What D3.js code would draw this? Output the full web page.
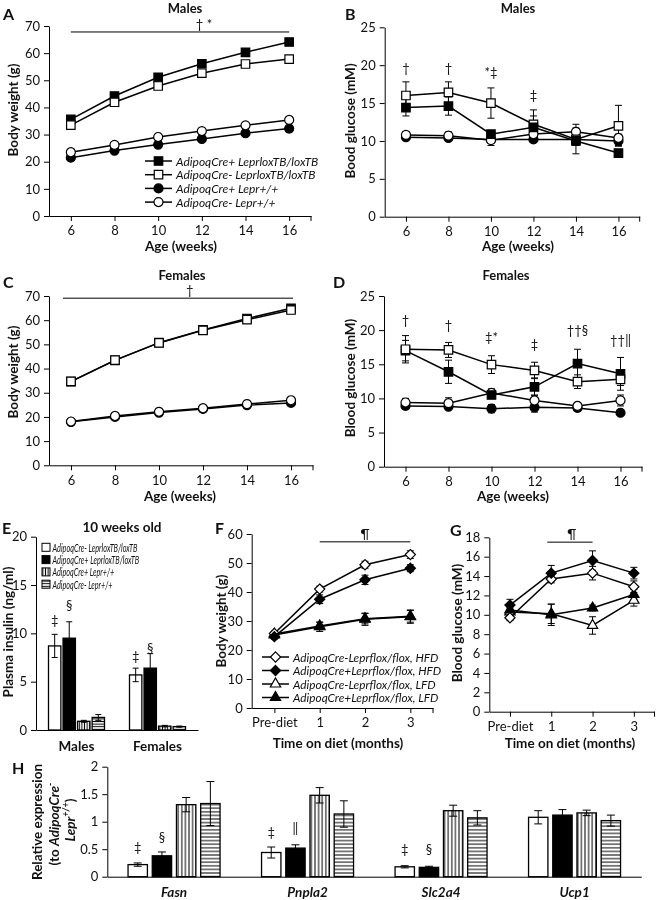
<!DOCTYPE html>
<html><head><meta charset="utf-8">
<script src="https://cdn.jsdelivr.net/npm/d3@7"></script>
<style>
body{margin:0;background:#fff;}
svg{display:block;will-change:transform;}
</style></head><body>
<svg id="fig" width="656" height="900"></svg>
<script>
// ================= DATA =================
const ages = [6, 8, 10, 12, 14, 16];
const ageLabels = ["6", "8", "10", "12", "14", "16"];
const lineSeriesNames = ["AdipoqCre+ LeprloxTB/loxTB", "AdipoqCre- LeprloxTB/loxTB", "AdipoqCre+ Lepr+/+", "AdipoqCre- Lepr+/+"];

// Panel A - males body weight (g)
const aCrePlusLox = [35.6, 44.2, 51.1, 56.1, 60.3, 64.1];
const aCrePlusLoxErr = [0.8, 0.8, 0.9, 0.9, 0.9, 1.0];
const aCreMinusLox = [33.5, 41.9, 47.9, 52.6, 56.0, 57.8];
const aCreMinusLoxErr = [0.7, 0.8, 0.9, 1.0, 1.0, 1.2];
const aCrePlusWt = [21.5, 24.1, 26.3, 28.4, 30.5, 32.2];
const aCrePlusWtErr = [0.4, 0.4, 0.5, 0.5, 0.5, 0.6];
const aCreMinusWt = [23.5, 26.2, 29.1, 31.3, 33.4, 35.4];
const aCreMinusWtErr = [0.5, 0.5, 0.6, 0.6, 0.7, 0.8];

// Panel B - males blood glucose (mM)
const bCrePlusLox = [14.4, 14.6, 10.9, 11.8, 10.0, 8.4];
const bCrePlusLoxErr = [1.1, 1.2, 0.3, 1.5, 1.7, 0.3];
const bCreMinusLox = [16.0, 16.4, 15.0, 12.2, 10.2, 12.0];
const bCreMinusLoxErr = [1.8, 1.4, 2.0, 1.9, 0.8, 2.7];
const bCrePlusWt = [10.5, 10.4, 10.2, 10.2, 10.2, 10.0];
const bCrePlusWtErr = [0.3, 0.2, 0.2, 0.3, 0.3, 0.6];
const bCreMinusWt = [10.8, 10.7, 10.1, 10.9, 11.2, 10.4];
const bCreMinusWtErr = [0.4, 0.5, 0.7, 0.5, 1.0, 0.5];

// Panel C - females body weight (g)
const cCrePlusLox = [34.6, 43.4, 50.7, 56.0, 60.7, 64.9];
const cCrePlusLoxErr = [0.8, 0.6, 0.9, 0.8, 1.0, 1.2];
const cCreMinusLox = [34.7, 43.5, 50.6, 55.8, 60.2, 64.2];
const cCreMinusLoxErr = [0.8, 0.8, 1.0, 0.9, 1.2, 1.5];
const cCrePlusWt = [18.0, 20.0, 21.8, 23.3, 24.9, 25.8];
const cCrePlusWtErr = [0.4, 0.4, 0.4, 0.5, 0.5, 0.5];
const cCreMinusWt = [18.1, 20.4, 22.1, 23.6, 25.3, 26.9];
const cCreMinusWtErr = [0.4, 0.5, 0.5, 0.5, 0.6, 0.6];

// Panel D - females blood glucose (mM)
const dCrePlusLox = [17.0, 13.9, 10.5, 11.7, 15.1, 13.6];
const dCrePlusLoxErr = [1.5, 1.7, 0.5, 1.3, 2.1, 2.4];
const dCreMinusLox = [17.2, 17.1, 14.95, 14.1, 12.45, 12.8];
const dCreMinusLoxErr = [2.0, 1.1, 1.3, 1.2, 1.0, 0.9];
const dCrePlusWt = [8.9, 8.8, 8.5, 8.7, 8.6, 7.9];
const dCrePlusWtErr = [0.3, 0.3, 0.6, 0.7, 0.3, 0.2];
const dCreMinusWt = [9.4, 9.3, 10.8, 9.7, 8.9, 9.7];
const dCreMinusWtErr = [0.6, 0.8, 0.6, 0.8, 0.3, 0.8];

// Panel E - plasma insulin (ng/ml), 10 weeks old
const eGroups = ["Males", "Females"];
const eSeriesNames = ["AdipoqCre- LeprloxTB/loxTB", "AdipoqCre+ LeprloxTB/loxTB", "AdipoqCre+ Lepr+/+", "AdipoqCre- Lepr+/+"];
const eCreMinusLox = [8.7, 5.7];
const eCreMinusLoxErr = [1.2, 0.7];
const eCrePlusLox = [9.5, 6.4];
const eCrePlusLoxErr = [1.7, 1.5];
const eCrePlusWt = [0.9, 0.4];
const eCrePlusWtErr = [0.1, 0.08];
const eCreMinusWt = [1.3, 0.35];
const eCreMinusWtErr = [0.3, 0.06];

// Panels F, G - diet study
const months = ["Pre-diet", "1", "2", "3"];
const dietSeriesNames = ["AdipoqCre-Leprflox/flox, HFD", "AdipoqCre+Leprflox/flox, HFD", "AdipoqCre-Leprflox/flox, LFD", "AdipoqCre+Leprflox/flox, LFD"];
const fCreMinusHFD = [25.7, 41.0, 49.4, 52.9];
const fCreMinusHFDErr = [0.8, 1.0, 1.2, 1.3];
const fCrePlusHFD = [24.6, 37.5, 44.2, 48.2];
const fCrePlusHFDErr = [0.8, 1.5, 1.6, 1.2];
const fCreMinusLFD = [25.5, 28.3, 30.8, 31.6];
const fCreMinusLFDErr = [0.8, 1.3, 1.8, 2.0];
const fCrePlusLFD = [25.2, 28.0, 30.6, 31.5];
const fCrePlusLFDErr = [0.8, 1.6, 2.1, 2.3];
const gCreMinusHFD = [9.7, 13.7, 14.3, 12.9];
const gCreMinusHFDErr = [0.3, 0.4, 0.7, 0.6];
const gCrePlusHFD = [11.0, 14.3, 15.6, 14.3];
const gCrePlusHFDErr = [0.6, 0.8, 1.0, 0.6];
const gCreMinusLFD = [10.3, 10.1, 8.9, 11.5];
const gCreMinusLFDErr = [0.4, 1.0, 0.9, 0.6];
const gCrePlusLFD = [10.5, 10.0, 10.7, 12.1];
const gCrePlusLFDErr = [0.4, 1.1, 0.3, 0.5];

// Panel H - relative expression
const hGenes = ["Fasn", "Pnpla2", "Slc2a4", "Ucp1"];
const hCreMinusLox = [0.22, 0.44, 0.18, 1.08];
const hCreMinusLoxErr = [0.03, 0.10, 0.02, 0.12];
const hCrePlusLox = [0.38, 0.52, 0.17, 1.12];
const hCrePlusLoxErr = [0.07, 0.06, 0.02, 0.10];
const hCrePlusWt = [1.31, 1.48, 1.20, 1.16];
const hCrePlusWtErr = [0.13, 0.14, 0.10, 0.05];
const hCreMinusWt = [1.33, 1.14, 1.07, 1.02];
const hCreMinusWtErr = [0.40, 0.24, 0.13, 0.10];

// Significance marks: [x category index, label, y in data units]
const sigB = [[0, "†", 19.6], [1, "†", 19.6], [2, "*‡", 19.1], [3, "‡", 16.1]];
const sigD = [[0, "†", 21.5], [1, "†", 20.7], [2, "‡*", 19.0], [3, "‡", 18.0], [4, "††§", 20.0], [5, "††‖", 18.5]];
// [group, series, label, y]
const sigE = [[0, 0, "‡", 11.4], [0, 1, "§", 12.9], [1, 0, "‡", 7.7], [1, 1, "§", 8.5]];
const sigH = [[0, 0, "‡", 0.54], [0, 1, "§", 0.72], [1, 0, "‡", 0.82], [1, 1, "‖", 0.88], [2, 0, "‡", 0.50], [2, 1, "§", 0.50]];

// ================= DRAWING =================
const FONT = "Lato, 'Open Sans', 'DejaVu Sans', sans-serif";
const svg = d3.select("#fig").attr("font-family", FONT);
const defs = svg.append("defs");
function stripes(id, vertical, step) {
  const p = defs.append("pattern").attr("id", id).attr("patternUnits", "userSpaceOnUse")
    .attr("width", step).attr("height", step);
  p.append("rect").attr("width", step).attr("height", step).attr("fill", "#fff");
  p.append("line")
    .attr("x1", vertical ? step / 2 : 0).attr("x2", vertical ? step / 2 : step)
    .attr("y1", vertical ? 0 : step / 2).attr("y2", vertical ? step : step / 2)
    .attr("stroke", "#000").attr("stroke-width", 1);
}
stripes("vstripe", true, 3.6);
stripes("hstripe", false, 3.6);
stripes("vstripeS", true, 2.6);
stripes("hstripeS", false, 2.6);

const symDiamond = { draw(ctx, size) { const r = Math.sqrt(size / 2); ctx.moveTo(0, -r); ctx.lineTo(r, 0); ctx.lineTo(0, r); ctx.lineTo(-r, 0); ctx.closePath(); } };
const ST = {
  FS: { sym: d3.symbolSquare, size: 72, fill: "#000" },
  OS: { sym: d3.symbolSquare, size: 72, fill: "#fff" },
  FC: { sym: d3.symbolCircle, size: 64, fill: "#000" },
  OC: { sym: d3.symbolCircle, size: 64, fill: "#fff" },
  FD: { sym: symDiamond, size: 52, fill: "#000" },
  OD: { sym: symDiamond, size: 52, fill: "#fff" },
  FT: { sym: d3.symbolTriangle, size: 46, fill: "#000" },
  OT: { sym: d3.symbolTriangle, size: 46, fill: "#fff" }
};

function styleAxis(a, size) {
  a.selectAll("path,line").attr("stroke", "#000");
  a.selectAll("text").attr("font-size", size || 13).attr("fill", "#111").attr("font-family", FONT);
}
function txt(x, y, s, o = {}) {
  const t = svg.append("text").attr("x", x).attr("y", y).text(s)
    .attr("font-size", o.size || 13).attr("fill", "#111")
    .attr("text-anchor", o.anchor || "middle");
  if (o.bold) t.attr("font-weight", "bold");
  if (o.italic) t.attr("font-style", "italic");
  if (o.rot) t.attr("transform", `rotate(-90,${x},${y})`).attr("dominant-baseline", "central");
  if (o.central) t.attr("dominant-baseline", "central");
  return t;
}
function errBar(g, cx, y1, y2, hw) {
  g.append("line").attr("x1", cx).attr("x2", cx).attr("y1", y1).attr("y2", y2).attr("stroke", "#000").attr("stroke-width", 1);
  [y1, y2].forEach(yy => g.append("line").attr("x1", cx - hw).attr("x2", cx + hw).attr("y1", yy).attr("y2", yy).attr("stroke", "#000").attr("stroke-width", 1));
}

function drawLinePanel(p) {
  const base = p.y.range()[0];
  const [xa, xb] = p.x.range();
  const g = svg.append("g");
  const yAx = g.append("g").attr("transform", `translate(${xa},0)`)
    .call(d3.axisLeft(p.y).tickValues(p.yTicks).tickSize(5).tickSizeOuter(0).tickPadding(4).tickFormat(d3.format("d")));
  const xAx = g.append("g").attr("transform", `translate(0,${base})`)
    .call(d3.axisBottom(p.x).tickValues(p.xVals).tickSize(5).tickSizeOuter(0).tickPadding(5).tickFormat((d, i) => p.xLabels[i]));
  g.append("line").attr("x1", xb).attr("x2", xb).attr("y1", base).attr("y2", base + 5).attr("stroke", "#000");
  styleAxis(yAx); styleAxis(xAx);
  const X = i => p.x(p.xVals[i]);
  p.series.forEach(s => s.v.forEach((v, i) => { if (s.e[i]) errBar(g, X(i), p.y(v + s.e[i]), p.y(v - s.e[i]), 3.5); }));
  p.series.forEach(s => {
    g.append("path").attr("d", d3.line().x((d, i) => X(i)).y(d => p.y(d))(s.v))
      .attr("fill", "none").attr("stroke", "#000").attr("stroke-width", 1.5);
    g.selectAll(null).data(s.v).join("path")
      .attr("transform", (d, i) => `translate(${X(i)},${p.y(d)})`)
      .attr("d", d3.symbol(s.st.sym, s.st.size)).attr("fill", s.st.fill)
      .attr("stroke", "#000").attr("stroke-width", 1.2);
  });
  (p.sig || []).forEach(([i, t, yv]) => txt(X(i), p.y(yv), t, { central: true, size: 13 }));
  return { g, X };
}

function sigLine(x1, x2, y, label, lx) {
  svg.append("line").attr("x1", x1).attr("x2", x2).attr("y1", y).attr("y2", y).attr("stroke", "#000").attr("stroke-width", 1);
  txt(lx, y - 3, label, { size: 13 });
}

function legendLines(x0, y0, dy, names, styles, size) {
  names.forEach((n, i) => {
    const y = y0 + i * dy;
    svg.append("line").attr("x1", x0).attr("x2", x0 + 27).attr("y1", y).attr("y2", y).attr("stroke", "#000").attr("stroke-width", 1.5);
    svg.append("path").attr("transform", `translate(${x0 + 13.5},${y})`)
      .attr("d", d3.symbol(styles[i].sym, styles[i].size)).attr("fill", styles[i].fill).attr("stroke", "#000").attr("stroke-width", 1.2);
    txt(x0 + 31, y, n, { anchor: "start", italic: true, size: size, central: true });
  });
}

// ---------- Panel A ----------
const xA = d3.scaleLinear().domain([5, 17]).range([49, 311]);
const yA = d3.scaleLinear().domain([0, 70]).range([216, 26]);
drawLinePanel({ x: xA, y: yA, xVals: ages, xLabels: ageLabels, yTicks: d3.range(0, 71, 10),
  series: [
    { v: aCrePlusLox, e: aCrePlusLoxErr, st: ST.FS },
    { v: aCreMinusLox, e: aCreMinusLoxErr, st: ST.OS },
    { v: aCrePlusWt, e: aCrePlusWtErr, st: ST.FC },
    { v: aCreMinusWt, e: aCreMinusWtErr, st: ST.OC }
  ] });
sigLine(xA(6), xA(16), yA(67.8), "† *", xA(12.1));
legendLines(145, 161, 13.7, lineSeriesNames, [ST.FS, ST.OS, ST.FC, ST.OC], 12);
txt(3, 20, "A", { bold: true, size: 16, anchor: "start" });
txt(185, 13, "Males", { bold: true, size: 13 });
txt(12.5, 110, "Body weight (g)", { bold: true, size: 13.5, rot: true });
txt(181, 251, "Age (weeks)", { bold: true, size: 13.5 });

// ---------- Panel B ----------
const xB = d3.scaleLinear().domain([5, 17]).range([384.7, 639.7]);
const yB = d3.scaleLinear().domain([0, 25]).range([216.7, 27.3]);
drawLinePanel({ x: xB, y: yB, xVals: ages, xLabels: ageLabels, yTicks: d3.range(0, 26, 5), sig: sigB,
  series: [
    { v: bCrePlusWt, e: bCrePlusWtErr, st: ST.FC },
    { v: bCreMinusWt, e: bCreMinusWtErr, st: ST.OC },
    { v: bCreMinusLox, e: bCreMinusLoxErr, st: ST.OS },
    { v: bCrePlusLox, e: bCrePlusLoxErr, st: ST.FS }
  ] });
txt(345, 20, "B", { bold: true, size: 16, anchor: "start" });
txt(518, 13, "Males", { bold: true, size: 13 });
txt(350, 121, "Bood glucose (mM)", { bold: true, size: 13.5, rot: true });
txt(518, 251, "Age (weeks)", { bold: true, size: 13.5 });

// ---------- Panel C ----------
const xC = d3.scaleLinear().domain([5, 17]).range([49, 313]);
const yC = d3.scaleLinear().domain([0, 70]).range([465.3, 296]);
drawLinePanel({ x: xC, y: yC, xVals: ages, xLabels: ageLabels, yTicks: d3.range(0, 71, 10),
  series: [
    { v: cCrePlusLox, e: cCrePlusLoxErr, st: ST.FS },
    { v: cCreMinusLox, e: cCreMinusLoxErr, st: ST.OS },
    { v: cCrePlusWt, e: cCrePlusWtErr, st: ST.FC },
    { v: cCreMinusWt, e: cCreMinusWtErr, st: ST.OC }
  ] });
sigLine(63, 293, yC(69.1), "†", xC(11.4));
txt(3, 288, "C", { bold: true, size: 16, anchor: "start" });
txt(182, 280, "Females", { bold: true, size: 13 });
txt(12.5, 372, "Body weight (g)", { bold: true, size: 13.5, rot: true });
txt(180, 501, "Age (weeks)", { bold: true, size: 13.5 });

// ---------- Panel D ----------
const xD = d3.scaleLinear().domain([5, 17]).range([384, 642]);
const yD = d3.scaleLinear().domain([0, 25]).range([466.7, 296]);
drawLinePanel({ x: xD, y: yD, xVals: ages, xLabels: ageLabels, yTicks: d3.range(0, 26, 5), sig: sigD,
  series: [
    { v: dCrePlusWt, e: dCrePlusWtErr, st: ST.FC },
    { v: dCreMinusWt, e: dCreMinusWtErr, st: ST.OC },
    { v: dCrePlusLox, e: dCrePlusLoxErr, st: ST.FS },
    { v: dCreMinusLox, e: dCreMinusLoxErr, st: ST.OS }
  ] });
txt(333, 288, "D", { bold: true, size: 16, anchor: "start" });
txt(506, 280, "Females", { bold: true, size: 13 });
txt(350, 378, "Blood glucose (mM)", { bold: true, size: 13.5, rot: true });
txt(513, 501, "Age (weeks)", { bold: true, size: 13.5 });

// ---------- Bar panels ----------
function drawBarPanel(p) {
  const base = p.y.range()[0];
  const g = svg.append("g");
  const yAx = g.append("g").attr("transform", `translate(${p.x.range()[0]},0)`)
    .call(d3.axisLeft(p.y).tickValues(p.yTicks).tickSize(5).tickSizeOuter(0).tickPadding(4).tickFormat(p.yFmt));
  styleAxis(yAx);
  const xAx = g.append("g").attr("transform", `translate(0,${base})`)
    .call(d3.axisBottom(p.x).tickSize(0).tickSizeOuter(0).tickPadding(11));
  styleAxis(xAx);
  xAx.selectAll("text").attr("font-weight", "bold").attr("font-style", p.italicX ? "italic" : null).attr("font-size", 13.5);
  const cx = (gi, si) => p.x(p.x.domain()[gi]) + p.x.bandwidth() / 2 + p.sub(si) + p.sub.bandwidth() / 2;
  p.values.forEach((vals, si) => vals.forEach((v, gi) => {
    g.append("rect").attr("x", cx(gi, si) - p.sub.bandwidth() / 2).attr("width", p.sub.bandwidth())
      .attr("y", p.y(v)).attr("height", base - p.y(v))
      .attr("fill", p.fills[si]).attr("stroke", "#000").attr("stroke-width", 1.3);
  }));
  p.values.forEach((vals, si) => vals.forEach((v, gi) => {
    const e = p.errs[si][gi];
    errBar(g, cx(gi, si), p.y(v + e), p.y(v - e), p.cap);
  }));
  p.sig.forEach(([gi, si, t, yv]) => txt(cx(gi, si), p.y(yv), t, { central: true, size: 13 }));
}

// ---------- Panel E ----------
const xE = d3.scaleBand().domain(eGroups).range([36, 198]);
const subE = d3.scaleBand().domain([0, 1, 2, 3]).range([-28, 28]).paddingInner(0.15);
const yE = d3.scaleLinear().domain([0, 20]).range([730, 536.7]);
const fillsE = ["#fff", "#000", "url(#vstripeS)", "url(#hstripeS)"];
drawBarPanel({ x: xE, sub: subE, y: yE, yTicks: d3.range(0, 21, 5), yFmt: d3.format("d"), cap: 3,
  values: [eCreMinusLox, eCrePlusLox, eCrePlusWt, eCreMinusWt],
  errs: [eCreMinusLoxErr, eCrePlusLoxErr, eCrePlusWtErr, eCreMinusWtErr],
  fills: fillsE, sig: sigE });
const eLegW = [85, 86.7, 61.7, 60];
eSeriesNames.forEach((n, i) => {
  const y = 547.3 + i * 12.3;
  svg.append("rect").attr("x", 42).attr("y", y - 4).attr("width", 8).attr("height", 8)
    .attr("fill", fillsE[i]).attr("stroke", "#000").attr("stroke-width", 1);
  txt(52.5, y, n, { anchor: "start", italic: true, size: 11.5, central: true })
    .attr("textLength", eLegW[i]).attr("lengthAdjust", "spacingAndGlyphs");
});
txt(2, 534, "E", { bold: true, size: 16, anchor: "start" });
txt(122, 532, "10 weeks old", { bold: true, size: 13.5 });
txt(8, 632, "Plasma insulin (ng/ml)", { bold: true, size: 13.5, rot: true });

// ---------- Panel F ----------
const xF = d3.scalePoint().domain(months).range([251.7, 433]).padding(0.5);
const yF = d3.scaleLinear().domain([0, 60]).range([708, 534]);
drawLinePanel({ x: xF, y: yF, xVals: months, xLabels: months, yTicks: d3.range(0, 61, 10),
  series: [
    { v: fCreMinusLFD, e: fCreMinusLFDErr, st: ST.OT },
    { v: fCrePlusLFD, e: fCrePlusLFDErr, st: ST.FT },
    { v: fCreMinusHFD, e: fCreMinusHFDErr, st: ST.OD },
    { v: fCrePlusHFD, e: fCrePlusHFDErr, st: ST.FD }
  ] });
sigLine(xF("1"), xF("3"), yF(57.3), "¶", xF("2"));
legendLines(262, 657, 13.5, dietSeriesNames, [ST.OD, ST.FD, ST.OT, ST.FT], 11.8);
txt(215, 534, "F", { bold: true, size: 16, anchor: "start" });
txt(221, 621, "Body weight (g)", { bold: true, size: 13.5, rot: true });
txt(338, 748, "Time on diet (months)", { bold: true, size: 13.5 });

// ---------- Panel G ----------
const xG = d3.scalePoint().domain(months).range([489.3, 654.5]).padding(0.5);
const yG = d3.scaleLinear().domain([0, 18]).range([711.7, 537.3]);
drawLinePanel({ x: xG, y: yG, xVals: months, xLabels: months, yTicks: d3.range(0, 19, 2),
  series: [
    { v: gCreMinusLFD, e: gCreMinusLFDErr, st: ST.OT },
    { v: gCrePlusLFD, e: gCrePlusLFDErr, st: ST.FT },
    { v: gCreMinusHFD, e: gCreMinusHFDErr, st: ST.OD },
    { v: gCrePlusHFD, e: gCrePlusHFDErr, st: ST.FD }
  ] });
sigLine(xG("1") - 4, xG("2"), yG(17.5), "¶", (xG("1") + xG("2")) / 2);
txt(450, 536, "G", { bold: true, size: 16, anchor: "start" });
txt(457, 623, "Blood glucose (mM)", { bold: true, size: 13.5, rot: true });
txt(570, 748, "Time on diet (months)", { bold: true, size: 13.5 });

// ---------- Panel H ----------
const xH = d3.scaleBand().domain(hGenes).range([107.3, 641.3]);
const subH = d3.scaleBand().domain([0, 1, 2, 3]).range([-46, 46]).paddingInner(0.2);
const yH = d3.scaleLinear().domain([0, 2]).range([876.7, 766.7]);
drawBarPanel({ x: xH, sub: subH, y: yH, yTicks: [0, 0.5, 1, 1.5, 2], yFmt: d => String(d), cap: 4, italicX: true,
  values: [hCreMinusLox, hCrePlusLox, hCrePlusWt, hCreMinusWt],
  errs: [hCreMinusLoxErr, hCrePlusLoxErr, hCrePlusWtErr, hCreMinusWtErr],
  fills: ["#fff", "#000", "url(#vstripe)", "url(#hstripe)"], sig: sigH });
txt(12, 774, "H", { bold: true, size: 16, anchor: "start" });
txt(37, 822, "Relative expression", { bold: true, size: 13.5, rot: true });
{
  const t2 = svg.append("text").attr("transform", "translate(54,824) rotate(-90)").attr("text-anchor", "middle")
    .attr("dominant-baseline", "central").attr("font-weight", "bold").attr("font-size", 13.5).attr("fill", "#111");
  t2.append("tspan").text("(to ");
  t2.append("tspan").attr("font-style", "italic").text("AdipoqCre");
  t2.append("tspan").attr("font-size", 9).attr("dy", -5).text("-");
  const t3 = svg.append("text").attr("transform", "translate(70,820) rotate(-90)").attr("text-anchor", "middle")
    .attr("dominant-baseline", "central").attr("font-weight", "bold").attr("font-size", 13.5).attr("fill", "#111");
  t3.append("tspan").attr("font-style", "italic").text("Lepr");
  t3.append("tspan").attr("font-size", 9).attr("dy", -5).attr("font-style", "italic").text("+/+");
  t3.append("tspan").attr("dy", 5).text(")");
}
</script>
</body></html>
